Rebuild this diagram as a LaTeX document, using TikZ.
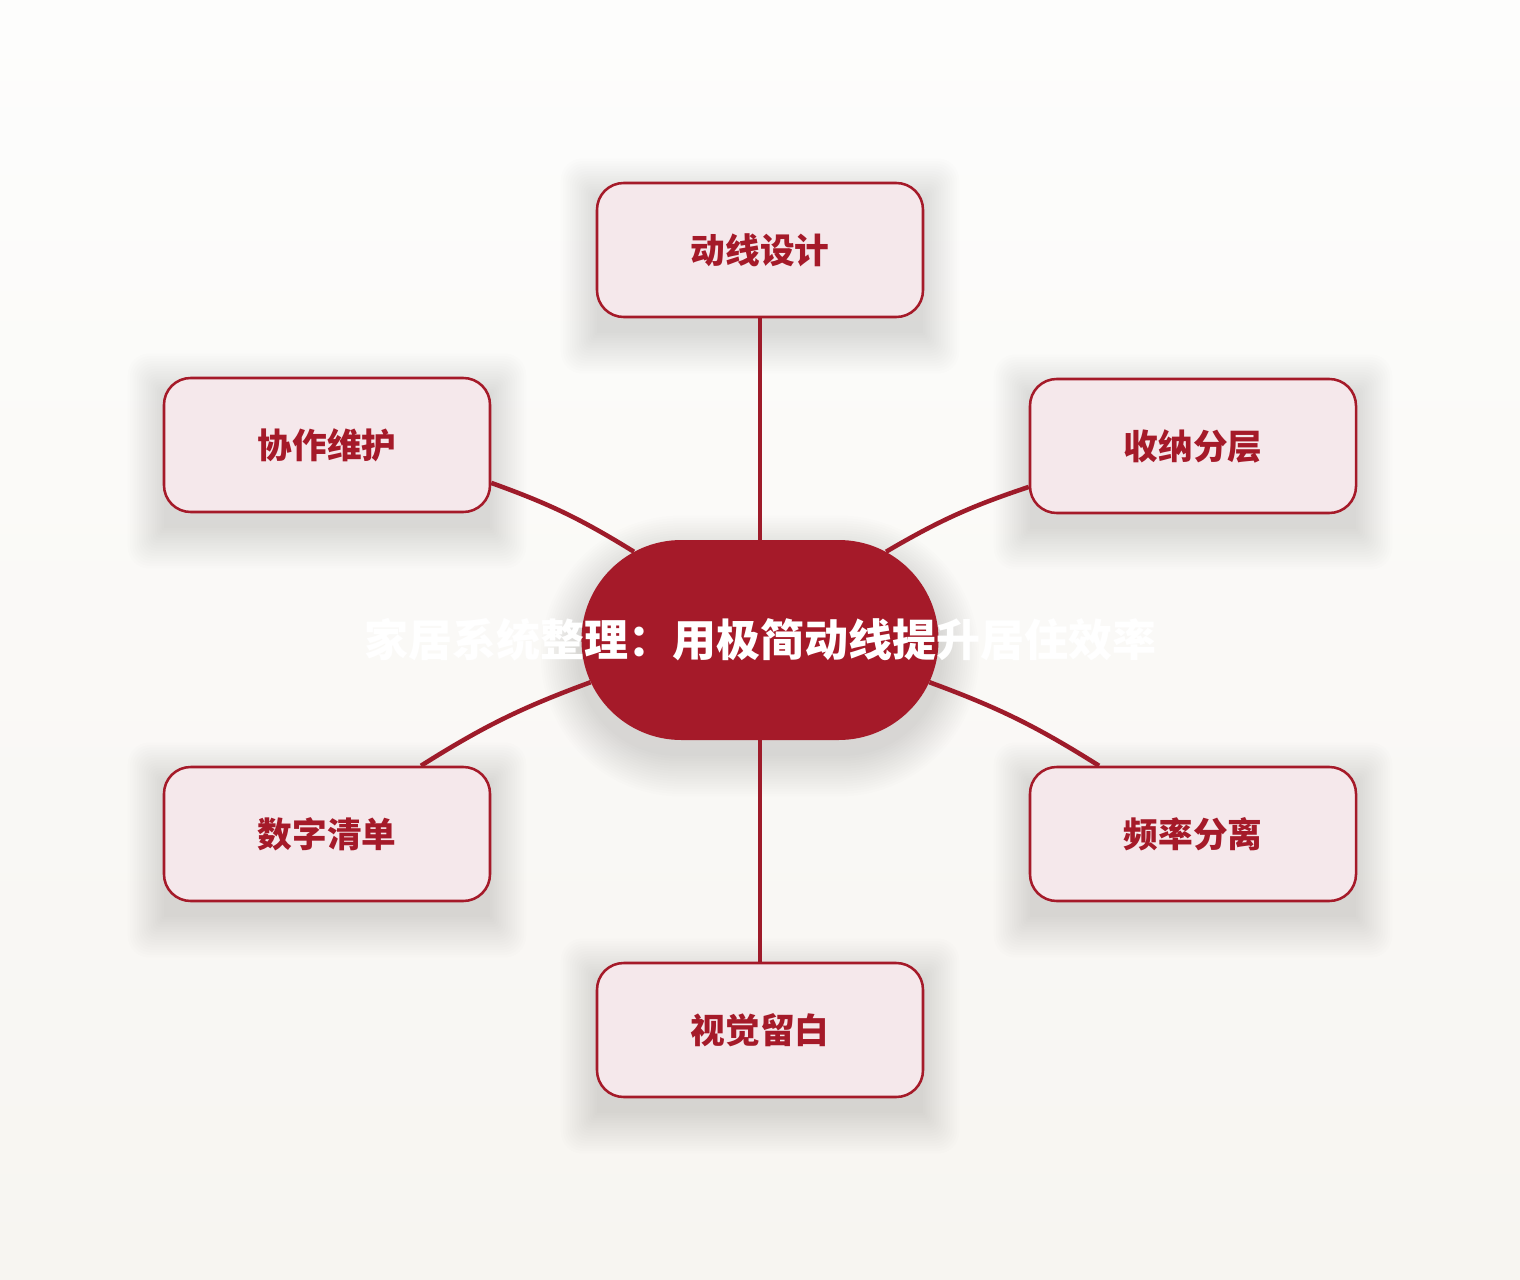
\documentclass[tikz,border=0pt]{standalone}
\usepackage{fontspec}
\newfontfamily\cjk{Noto Sans CJK SC}
\usetikzlibrary{shapes.misc,backgrounds}
\definecolor{wine}{HTML}{A51A29}
\definecolor{blush}{HTML}{F5E8EB}
\definecolor{linkred}{HTML}{9E1B2A}
\definecolor{smoke}{HTML}{3A3528}

\begin{document}
\begin{tikzpicture}[x=0.75pt,y=-0.75pt,
    haze/.style={fill=smoke,opacity=0.009,inner sep=0pt},
    topic/.style={draw=wine,line width=1.9pt,fill=blush,rounded corners=20pt,
        minimum width=244.5pt,minimum height=100.5pt,text=wine,
        font=\cjk\bfseries\fontsize{26}{30}\selectfont},
    hub/.style={rounded rectangle,fill=wine,minimum width=274.5pt,minimum height=150pt,
        text=white,font=\cjk\bfseries\fontsize{33}{38}\selectfont},
    link/.style={draw=linkred,line width=3.4pt}]
    \node[hub] (hub) at (760,640) {\makebox[0pt]{家居系统整理：用极简动线提升居住效率}};
    \node[topic] (flow) at (760,250) {动线设计};
    \node[topic] (care) at (327,445) {协作维护};
    \node[topic] (store) at (1193,446) {收纳分层};
    \node[topic] (list) at (327,834) {数字清单};
    \node[topic] (freq) at (1193,834) {频率分离};
    \node[topic] (blank) at (760,1030) {视觉留白};
    \draw[link] (hub.north) -- (flow.south);
    \draw[link] (hub.south) -- (blank.north);
    \draw[link] (care.-13) to[bend left=6] (hub.145);
    \draw[link] (list.36) to[bend left=6] (hub.-166);
    \draw[link] (hub.35) to[bend left=6] (store.-166);
    \draw[link] (hub.-14) to[bend left=6] (freq.144);
    \begin{scope}[on background layer]
        \fill[top color={rgb,255:red,253;green,253;blue,252},bottom color={rgb,255:red,247;green,245;blue,241}]
            (0,0) rectangle (1520,1280);
        \foreach \n in {flow,care,store,list,freq,blank}
            \foreach \s [evaluate=\s as \shr using 20+1.7*\s,
                         evaluate=\s as \shw using 244.5+3.4*\s,
                         evaluate=\s as \shh using 100.5+3.8*\s] in {0,...,16}
                \node[haze,rounded corners=\shr pt,minimum width=\shw pt,minimum height=\shh pt]
                    (haze-\n-\s) at ([yshift=-12pt]\n.center) {};
        \foreach \s [evaluate=\s as \shw using 274.5+3.4*\s,
                     evaluate=\s as \shh using 150+3.8*\s] in {0,...,16}
            \node[haze,rounded rectangle,minimum width=\shw pt,minimum height=\shh pt]
                (haze-hub-\s) at ([yshift=-12pt]hub.center) {};
    \end{scope}
\end{tikzpicture}
\end{document}
